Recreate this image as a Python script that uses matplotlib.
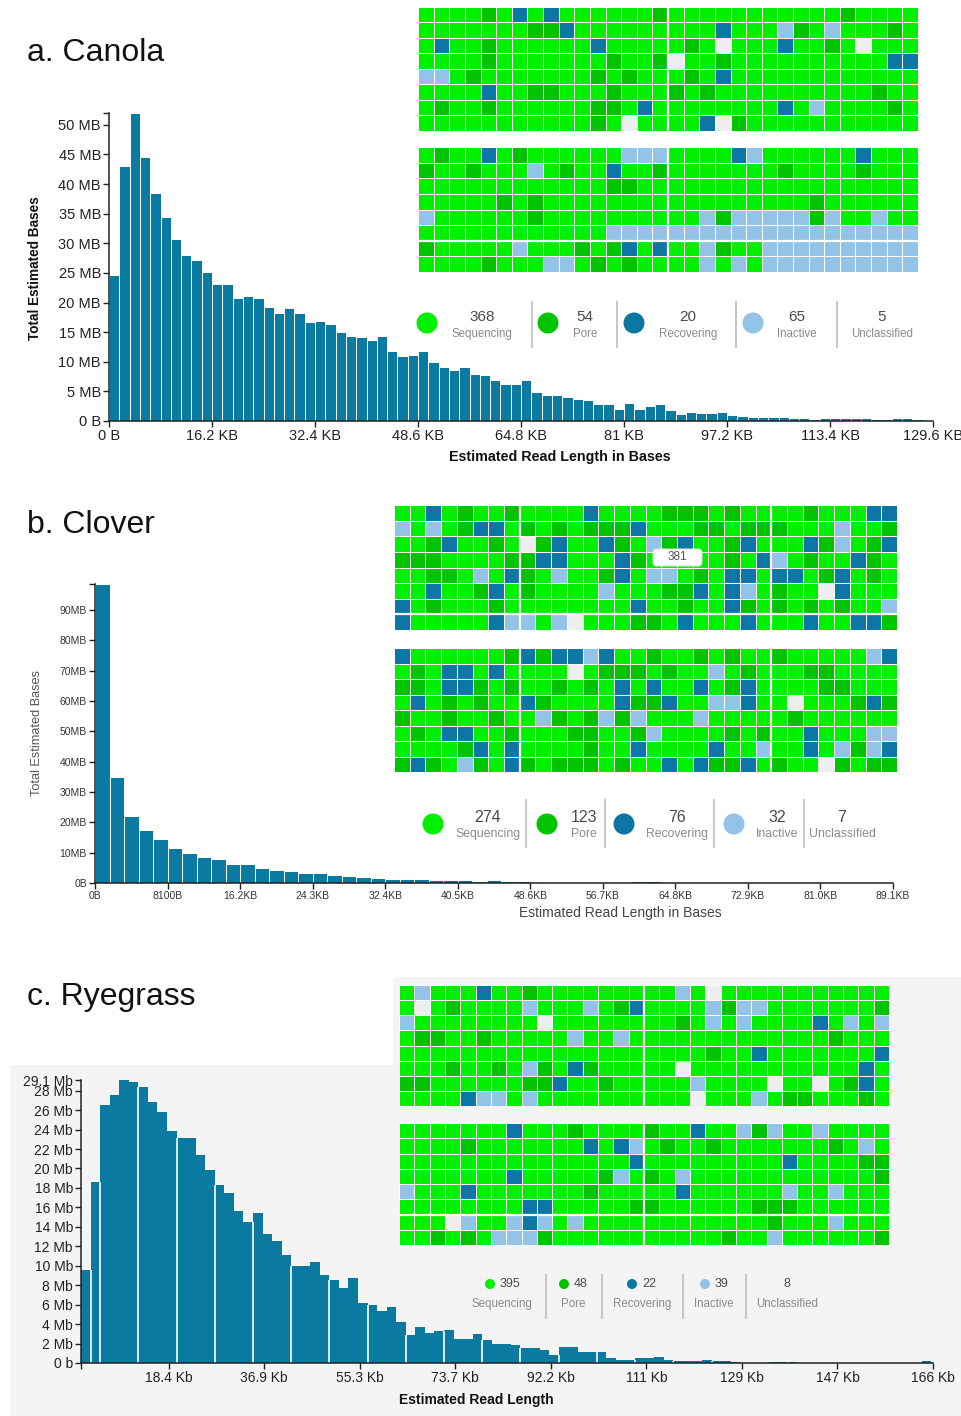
import matplotlib.pyplot as plt
import numpy as np
from matplotlib.colors import ListedColormap
from matplotlib.patches import Circle, Rectangle, FancyBboxPatch

plt.rcParams['font.family'] = ['Liberation Sans', 'DejaVu Sans']

W, H = 961, 1416

# ---------------- histogram data (Mb per bin) ----------------
bin_kb = 1.62
canola_mb = [24.6, 43.1, 52.0, 44.6, 38.5, 34.4, 30.8, 28.1, 27.1, 25.2,
             23.1, 23.1, 20.7, 21.1, 20.8, 19.3, 18.3, 19.1, 18.3, 16.7,
             16.9, 16.3, 15.1, 14.4, 14.2, 13.7, 14.4, 11.9, 11.0, 11.2,
             11.9, 10.0, 9.2, 8.6, 9.2, 7.9, 7.8, 7.0, 6.3, 6.3,
             7.0, 4.9, 4.4, 4.4, 4.1, 3.7, 3.5, 2.8, 2.8, 2.1,
             3.0, 2.1, 2.6, 2.8, 1.9, 1.1, 1.5, 1.3, 1.3, 1.5,
             1.0, 0.9, 0.6, 0.6, 0.7, 0.7, 0.45, 0.5, 0.35, 0.45,
             0.5, 0.5, 0.45, 0.5, 0.35, 0.35, 0.5, 0.45, 0.35, 0.2]
clover_mb = [98.5, 35.0, 22.0, 17.3, 14.6, 11.5, 9.8, 8.5, 8.0, 6.3,
             6.3, 4.9, 4.2, 3.8, 3.4, 3.4, 2.7, 2.3, 2.0, 1.6,
             1.4, 1.4, 1.4, 1.1, 1.1, 0.9, 0.6, 1.0, 0.7, 0.6,
             0.4, 0.35, 0.35, 0.35, 0.3, 0.3, 0.35, 0.5, 0.8, 0.4,
             0.3, 0.4, 0.2, 0.1, 0.4, 0.1, 0.05, 0.05, 0.05, 0.4,
             0.1, 0.05, 0.05, 0.05, 0.4]
rye_start_kb = 1.5
rye_bin_kb = 1.843
ryegrass_mb = [9.6, 18.6, 26.5, 27.6, 29.1, 28.9, 28.4, 26.8, 25.8, 23.9,
               23.1, 23.1, 21.4, 19.8, 18.3, 17.5, 15.6, 14.5, 15.4, 13.3,
               12.5, 11.1, 10.0, 10.0, 10.4, 9.0, 8.5, 7.7, 8.7, 6.2,
               6.0, 5.3, 5.8, 4.2, 2.9, 3.7, 3.1, 3.3, 3.4, 2.5,
               2.5, 3.0, 2.4, 2.0, 2.0, 1.8, 1.5, 1.5, 1.3, 0.8,
               1.6, 1.6, 1.1, 1.1, 1.1, 0.5, 0.35, 0.35, 0.5, 0.5,
               0.6, 0.3, 0.2, 0.2, 0.2, 0.3, 0.2, 0.2, 0.1, 0.0,
               0.0, 0.0, 0.1, 0.1, 0.1, 0.0, 0.0, 0.0, 0.0, 0.0,
               0.0, 0.0, 0.0, 0.0, 0.0, 0.0, 0.0, 0.0, 0.2]

canola_xticks = [0, 16.2, 32.4, 48.6, 64.8, 81, 97.2, 113.4, 129.6]
canola_xlabels = ["0 B", "16.2 KB", "32.4 KB", "48.6 KB", "64.8 KB", "81 KB",
                  "97.2 KB", "113.4 KB", "129.6 KB"]
canola_yticks = [0, 5, 10, 15, 20, 25, 30, 35, 40, 45, 50]
canola_ylabels = ["0 B"] + ["%d MB" % v for v in canola_yticks[1:]]

clover_xticks = [0, 8.1, 16.2, 24.3, 32.4, 40.5, 48.6, 56.7, 64.8, 72.9, 81.0, 89.1]
clover_xlabels = ["0B", "8100B", "16.2KB", "24.3KB", "32.4KB", "40.5KB", "48.6KB",
                  "56.7KB", "64.8KB", "72.9KB", "81.0KB", "89.1KB"]
clover_yticks = [0, 10, 20, 30, 40, 50, 60, 70, 80, 90]
clover_ylabels = ["0B"] + ["%dMB" % v for v in clover_yticks[1:]]

rye_xticks = [18.43, 36.86, 55.29, 73.72, 92.15, 110.58, 129.01, 147.44, 165.87]
rye_xlabels = ["18.4 Kb", "36.9 Kb", "55.3 Kb", "73.7 Kb", "92.2 Kb", "111 Kb",
               "129 Kb", "147 Kb", "166 Kb"]
rye_yticks = [0, 2, 4, 6, 8, 10, 12, 14, 16, 18, 20, 22, 24, 26, 28, 29.1]
rye_ylabels = ["0 b"] + ["%d Mb" % v for v in rye_yticks[1:-1]] + ["29.1 Mb"]

# ---------------- channel state data ----------------
states = ["Sequencing", "Pore", "Recovering", "Inactive", "Unclassified"]
state_codes = "SPRIU"
state_colors = ["#00f000", "#00c400", "#0c76a4", "#93c3e6", "#eeeeee"]

canola_counts = [368, 54, 20, 65, 5]
clover_counts = [274, 123, 76, 32, 7]
ryegrass_counts = [395, 48, 22, 39, 8]

canola_top = [
    "SSSSPSRSRSSSSSSP" "SSSSSSSSSSSPSSSS",
    "SSSSSSSPPRSSSSSS" "SSSRSSSIPSISSSPS",
    "SRSSPSSSSSSRSSSS" "SPSUSSSRSSPSUSSS",
    "SSSSPSSSSSSSPSSP" "USSPSSSSSSSSSSRR",
    "IISPSSSSSSSPSPSS" "SPSRSSSSSSSSSSSS",
    "SSSSRSSPPSSSPSSS" "PSPSSSSSSSSSSPSS",
    "SPSSPSSSSSSPPSRS" "SSSSSSSRSISSSSPS",
    "SSSSSSSSSSSPSUSS" "SSRUPSSSSSSSSSSS",
]
canola_bottom = [
    "SPSSRSPSSSSSSIII" "SSSSRISSSSSSRSSS",
    "PSSPSSSISPSSRSSP" "SSSSSSSPSSSSPSSS",
    "SSSSSSSSSSSSPPSS" "SSSSSSSSSSSSSSSS",
    "SSSSSPSPSSSSSSSS" "SSSSSSSSSPSSSSSS",
    "ISSSSSSPSSSSSSSS" "SSIPIIIIIPISSISS",
    "SSSSSSSSSSSSIIII" "IIIIIIIIIIIIIIII",
    "PSSSSSISSSPSPRSR" "SSIPSSIIIIIIIIII",
    "SSSSPSSSIISPSPSS" "SSISISIIIIIIIIII",
]
clover_top = [
    "SSRSPSSP" "SSSSRSSS" "SPPPSPSS" "SSPSSSRR",
    "ISISPRRS" "PSPSPPPR" "SSSPPSPP" "PSSSISSP",
    "SSPRSSPS" "UPRSSRPS" "IPRSSPRS" "SSRPISPR",
    "PPPSSSSP" "PRRSSSRP" "SSSSSPSR" "ISPSSRPS",
    "SSPPSISR" "PSISSPRS" "IISPSRRS" "RRSPRSPS",
    "SSRSSPRS" "PSSSSISS" "SPPRSRIS" "PSSURSSS",
    "RSPSSSPS" "SSSSSSSR" "SSPSSRPS" "PSPSPSSI",
    "RSSSSSRI" "ISIUSSSP" "PSRSSSRS" "SSRSSRRP",
]
clover_bottom = [
    "RSSSSSSP" "RPRRIRSS" "PSSPSPSS" "PSSSSSIR",
    "SPSRRSRS" "SSSUSPPP" "SPSSISPS" "SSPPSSSS",
    "PPSRRPSP" "SSPSPSRS" "RSSRSPRS" "SSSPPSSS",
    "SRSPSPSS" "RPSSSSRP" "PRSSIIRS" "SUSSSPRP",
    "PSSPSSPS" "SIPSPIPI" "SSSISSSS" "SPSSSSSS",
    "SPSRRSSP" "SSSPPSSP" "ISSSSPSP" "SSRSSSII",
    "SSSSPRSR" "SSSSPSSR" "SSSSRSSI" "SSRSIPIR",
    "PRPSIPSR" "PSPPPSPS" "SRSRPPRS" "PSSUPSPP",
]
ryegrass_top = [
    "SISSSRSSPSSSSSSS" "SSISUSSSSSSSSSSS",
    "SUSPSSSSISSSISPR" "SSSSIPIISSSSSSSP",
    "ISSSSSSSSUSSSSSS" "SSPSISISSSSRSISI",
    "SPPSSPSSSSSISSIS" "SSSSSSSSSSSSPSSS",
    "SSSSSSSSSSSSSSSS" "SSSSPSSRSSSSSSSR",
    "SSSPSSPSIPSRPSSS" "SSUSSSSSSSSSSSRS",
    "PPSSSSSSPPRSSPSS" "SSSISSSSUSSUSPRS",
    "SSSSRIISISSSSSSS" "SSSUSSSISPPSSSPS",
]
ryegrass_bottom = [
    "SSSSSSSRSSSPSSSS" "PSSRSSIPISSISSSS",
    "SSSSPSSSSSSSRSRI" "SPSSPSSSSSSSPSIS",
    "SSSSSSSSSSSSSSSR" "SSSSSSSSSRSSSSPP",
    "SSSSSSSRSSSSSPIS" "PSISSSSSSSSSSSSP",
    "ISSSRSSSSSSSPSSS" "SSRSSSSSSISSISSS",
    "SSSSSSSSRRSSSSSP" "PSSSSSSPPPSSSSSS",
    "SSSUISSIRISISSSS" "SSSSSSSSPSSSISSS",
    "SSPSPSIIIPSSSSSS" "SSSSSPSSISSSSSSP",
]

BAR = "#0a7aa0"
cell_cmap = ListedColormap(state_colors)


def box(x0, y0, x1, y1):
    return [x0 / W, 1 - y1 / H, (x1 - x0) / W, (y1 - y0) / H]


fig = plt.figure(figsize=(W / 100, H / 100), dpi=100)

# light grey panel behind the ryegrass chart
bg = fig.add_axes([0, 0, 1, 1], zorder=-5)
bg.set_xlim(0, W)
bg.set_ylim(H, 0)
bg.axis("off")
bg.add_patch(Rectangle((393, 977), 568, 100, color="#f4f4f4", lw=0))
bg.add_patch(Rectangle((10, 1065), 951, 351, color="#f4f4f4", lw=0))

ov = fig.add_axes([0, 0, 1, 1], zorder=10)
ov.set_xlim(0, W)
ov.set_ylim(H, 0)
ov.axis("off")


def draw_block(rect, rows, vsep, hsep):
    ax = fig.add_axes(box(*rect))
    arr = np.array([[state_codes.index(c) for c in r] for r in rows])
    ax.pcolormesh(np.arange(arr.shape[1] + 1), np.arange(arr.shape[0] + 1), arr,
                  cmap=cell_cmap, vmin=-0.5, vmax=4.5, edgecolors="white", linewidth=0.5)
    ax.set_xlim(0, arr.shape[1])
    ax.set_ylim(arr.shape[0], 0)
    ax.axis("off")
    for c in vsep:
        ax.axvline(c, color="white", lw=1.6)
    for r in hsep:
        ax.axhline(r, color="white", lw=1.6)


def style_axes(ax, xt, xl, yt, yl, fs, fam, tcolor, top_tick=None):
    yt2 = list(yt) + ([top_tick] if top_tick is not None else [])
    yl2 = list(yl) + ([""] if top_tick is not None else [])
    ax.set_xticks(xt)
    ax.set_xticklabels(xl, fontsize=fs, family=fam, color=tcolor)
    ax.set_yticks(yt2)
    ax.set_yticklabels(yl2, fontsize=fs, family=fam, color=tcolor)
    for s in ["top", "right"]:
        ax.spines[s].set_visible(False)
    for s in ["left", "bottom"]:
        ax.spines[s].set_color("#222222")
        ax.spines[s].set_linewidth(1.1)
    ax.tick_params(direction="out", length=4.3, width=1.0, color="#222222", pad=1.5)


def legend(counts, cx, nx, lx, cy, ny, ly, r, seps, sy, nfs, lfs, nha):
    for i, name in enumerate(states):
        if i < 4:
            ov.add_patch(Circle((cx[i], cy), r, color=state_colors[i], lw=0))
        ov.text(nx[i], ny, str(counts[i]), ha=nha[i], va="center", fontsize=nfs, color="#4a4a4a")
        ov.text(lx[i], ly, name, ha="center", va="center", fontsize=lfs, color="#8a8a8a")
    for x in seps:
        ov.plot([x, x], sy, color="#c8c8c8", lw=1.5)


# ---------------- a. Canola ----------------
ax1 = fig.add_axes(box(109, 113, 933, 421))
left = bin_kb * np.arange(len(canola_mb))
ax1.bar(left, canola_mb, width=bin_kb, align="edge", color=BAR, edgecolor="white", linewidth=0.7)
ax1.set_xlim(0, 129.6)
ax1.set_ylim(0, 52)
style_axes(ax1, canola_xticks, canola_xlabels, canola_yticks, canola_ylabels, 10.5,
           ["Liberation Sans", "DejaVu Sans"], "#222222", top_tick=52)
ax1.set_facecolor("none")

draw_block((418, 7, 918, 131), canola_top, [16], [])
draw_block((418, 147, 918, 272), canola_bottom, [16], [6])
legend(canola_counts, [427, 548, 634, 753], [482, 585, 688, 797, 882],
       [482, 585, 688, 797, 882], 323, 317, 334, 10.5, [532, 617, 736, 837], [302, 347],
       11, 8.3, ["center"] * 5)

ov.text(27, 53, "a. Canola", fontsize=23, ha="left", va="center", color="#111111")
ov.text(35, 268, "Total Estimated Bases", rotation=90, ha="center", va="center",
        fontsize=9.8, fontweight="bold", color="#111111")
ov.text(560, 457, "Estimated Read Length in Bases", ha="center", va="center",
        fontsize=10.3, fontweight="bold", color="#111111")

# ---------------- b. Clover ----------------
ax2 = fig.add_axes(box(95, 584, 893, 883))
left = bin_kb * np.arange(len(clover_mb))
ax2.bar(left, clover_mb, width=bin_kb, align="edge", color=BAR, edgecolor="white", linewidth=0.7)
ax2.set_xlim(0, 89.1)
ax2.set_ylim(0, 98.5)
style_axes(ax2, clover_xticks, clover_xlabels, clover_yticks, clover_ylabels, 7.5,
           ["Liberation Sans Narrow", "Liberation Sans", "DejaVu Sans"], "#333333", top_tick=98.5)
ax2.set_facecolor("none")

draw_block((394, 505, 897, 630), clover_top, [8, 24], [7])
draw_block((394, 648, 897, 772), clover_bottom, [8, 24], [])
tip = FancyBboxPatch((653, 549), 49, 17, boxstyle="round,pad=0,rounding_size=4",
                     facecolor="white", edgecolor="#dddddd", lw=0.8)
ov.add_patch(tip)
ov.text(677.5, 557.5, "381", ha="center", va="center", fontsize=8.5, color="#555555")
legend(clover_counts, [433, 547, 624, 734], [488, 584, 677, 777, 842],
       [488, 584, 677, 777, 842], 824, 817, 834, 10.5, [526, 605, 714, 804], [800, 847],
       11.5, 8.8, ["center"] * 5)

ov.text(27, 525, "b. Clover", fontsize=23, ha="left", va="center", color="#111111")
ov.text(37, 733, "Total Estimated Bases", rotation=90, ha="center", va="center",
        fontsize=9.2, color="#555555")
ov.text(620, 913, "Estimated Read Length in Bases", ha="center", va="center",
        fontsize=10, color="#444444")

# ---------------- c. Ryegrass ----------------
ax3 = fig.add_axes(box(81, 1080, 933, 1363))
left = rye_start_kb + rye_bin_kb * np.arange(len(ryegrass_mb))
ax3.bar(left, ryegrass_mb, width=rye_bin_kb, align="edge", color=BAR, linewidth=0)
vals = np.array(ryegrass_mb)
sep_idx = np.array([1, 2] + list(range(6, len(vals), 4)))
ax3.vlines(left[sep_idx], 0, np.minimum(vals[sep_idx], vals[sep_idx - 1]), color="white", lw=1.2)
ax3.set_xlim(rye_start_kb, 165.87)
ax3.set_ylim(0, 29.1)
style_axes(ax3, [rye_start_kb] + rye_xticks, [""] + rye_xlabels, rye_yticks, rye_ylabels, 10,
           ["Liberation Sans", "DejaVu Sans"], "#222222")
ax3.set_facecolor("none")

draw_block((399, 985, 889, 1106), ryegrass_top, [16], [])
draw_block((399, 1123, 889, 1245), ryegrass_bottom, [16], [6])
legend(ryegrass_counts, [490, 564, 632, 705], [500, 574, 642, 715, 787],
       [502, 573, 642, 714, 787], 1284, 1284, 1304, 5, [546, 602, 683, 746], [1275, 1318],
       9, 8.3, ["left", "left", "left", "left", "center"])

ov.text(27, 997, "c. Ryegrass", fontsize=23, ha="left", va="center", color="#111111")
ov.text(476, 1400, "Estimated Read Length", ha="center", va="center",
        fontsize=10, fontweight="bold", color="#111111")

fig.savefig("out.png", dpi=100, facecolor="white")
